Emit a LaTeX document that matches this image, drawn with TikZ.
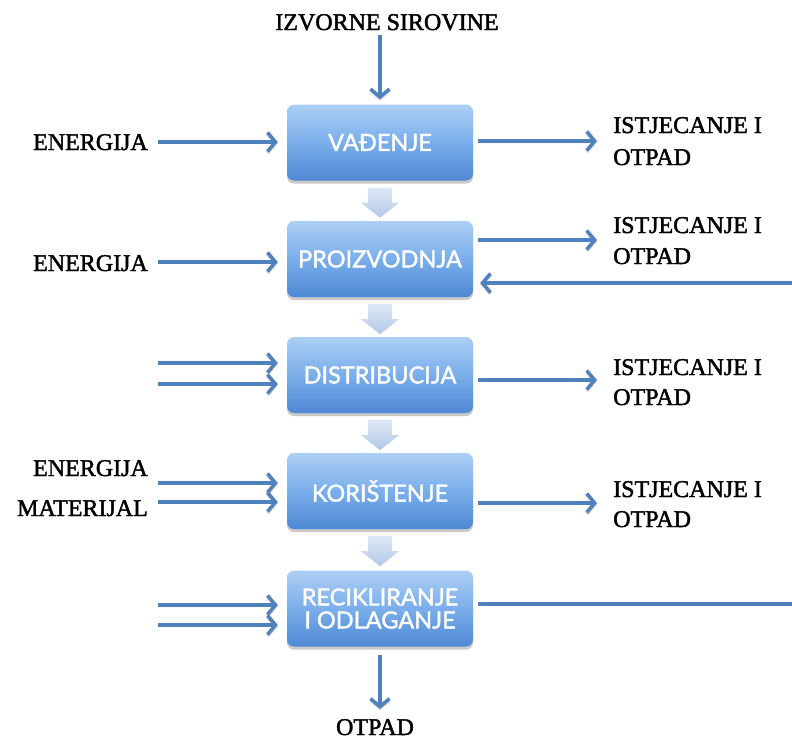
\documentclass[tikz,border=0pt]{standalone}
\usepackage{fontspec}
\setmainfont{Liberation Serif}
\newfontfamily\lblfont{Liberation Serif}[RawFeature={embolden=1.8}]
\newfontfamily\boxfont{Lato}[RawFeature={embolden=1.6}]
\usetikzlibrary{arrows.meta,shadows,calc}
\definecolor{flowc}{RGB}{79,129,189}
\definecolor{boxtop}{RGB}{172,207,245}
\definecolor{boxmid}{RGB}{122,174,235}
\definecolor{boxbot}{RGB}{78,136,212}
\definecolor{chevtop}{RGB}{222,232,245}
\definecolor{chevbot}{RGB}{178,200,230}
\tikzset{
  procbox/.style={rounded corners=7pt, minimum width=186pt, minimum height=76pt,
    top color=boxtop, bottom color=boxbot, middle color=boxmid,
    drop shadow={shadow xshift=0pt, shadow yshift=-3pt, opacity=0.3, fill=black!70},
    text=white, font=\boxfont\fontsize{23.5}{23}\selectfont, align=center, inner sep=0pt},
  lbl/.style={font=\lblfont\fontsize{24}{31.5}\selectfont, text=black, inner sep=0pt},
  flow/.style={draw=flowc, line width=4.5pt,
    -{Straight Barb[length=8pt,width=19pt,line width=3.5pt]},
    preaction={draw=black!30, opacity=0.5, transform canvas={yshift=-1.5pt}}},
  plainflow/.style={draw=flowc, line width=4.5pt,
    preaction={draw=black!30, opacity=0.5, transform canvas={yshift=-1.5pt}}},
  chev/.style={top color=chevtop, bottom color=chevbot}
}
\begin{document}
\begin{tikzpicture}[x=1pt,y=-1pt]
\useasboundingbox (0,0) rectangle (792,740);
% process boxes
\node[procbox] (b1) at (380,142.5) {VAĐENJE};
\node[procbox] (b2) at (380,259) {PROIZVODNJA};
\node[procbox] (b3) at (380,375) {DISTRIBUCIJA};
\node[procbox] (b4) at (380,491) {KORIŠTENJE};
\node[procbox] (b5) at (380,608.5) {RECIKLIRANJE\\I ODLAGANJE};
% chevrons between boxes
\foreach \a/\b in {b1/b2,b2/b3,b3/b4,b4/b5}{
  \shade[chev] ($(\a.south)+(-12,7)$) -- ++(24,0) -- ++(0,15) -- ++(7,0)
    -- ++(-19,15) -- ++(-19,-15) -- ++(7,0) -- cycle;
}
% top and bottom labels
\node[lbl, anchor=base] (src) at (387,30) {IZVORNE SIROVINE};
\node[lbl, anchor=base] (waste) at (375,735) {OTPAD};
\draw[flow, shorten <=4pt, shorten >=5pt] (src.south -| b1.north) -- (b1.north);
\draw[flow, shorten <=8pt, shorten >=10pt] (b5.south) -- (b5.south |- waste.north);
% left labels
\node[lbl, anchor=base east] (e1) at (148,150) {ENERGIJA};
\node[lbl, anchor=base east] (e2) at (148,271) {ENERGIJA};
\node[lbl, anchor=base east] (e4) at (148,476) {ENERGIJA};
\node[lbl, anchor=base east] (m4) at (148,516) {MATERIJAL};
% left arrow starts
\coordinate (l1) at (158,142);
\coordinate (l2) at (158,262);
\coordinate (l3a) at (158,363);
\coordinate (l3b) at (158,384);
\coordinate (l4a) at (158,483);
\coordinate (l4b) at (158,502);
\coordinate (l5a) at (158,605);
\coordinate (l5b) at (158,625);
\foreach \c/\b in {l1/b1,l2/b2,l3a/b3,l3b/b3,l4a/b4,l4b/b4,l5a/b5,l5b/b5}{
  \draw[flow, shorten >=9pt] (\c) -- (\c -| \b.west);
}
% right labels
\node[lbl, anchor=base west] (r1a) at (613,133) {ISTJECANJE I};
\node[lbl, anchor=base west] (r1b) at (613,165) {OTPAD};
\node[lbl, anchor=base west] (r2a) at (613,233) {ISTJECANJE I};
\node[lbl, anchor=base west] (r2b) at (613,264) {OTPAD};
\node[lbl, anchor=base west] (r3a) at (613,375) {ISTJECANJE I};
\node[lbl, anchor=base west] (r3b) at (613,405) {OTPAD};
\node[lbl, anchor=base west] (r4a) at (613,497) {ISTJECANJE I};
\node[lbl, anchor=base west] (r4b) at (613,527) {OTPAD};
% right arrow ends
\coordinate (o1) at (597,141);
\coordinate (o2) at (597,240);
\coordinate (o3) at (597,380);
\coordinate (o4) at (597,503);
\foreach \c/\b in {o1/b1,o2/b2,o3/b3,o4/b4}{
  \draw[flow, shorten <=5pt] (\c -| \b.east) -- (\c);
}
% feedback loop
\coordinate (fb) at (792,283);
\coordinate (rc) at (792,604);
\draw[flow, shorten >=7pt] (fb) -- (fb -| b2.east);
\draw[plainflow, shorten <=5pt] (rc -| b5.east) -- (rc);
\end{tikzpicture}
\end{document}
